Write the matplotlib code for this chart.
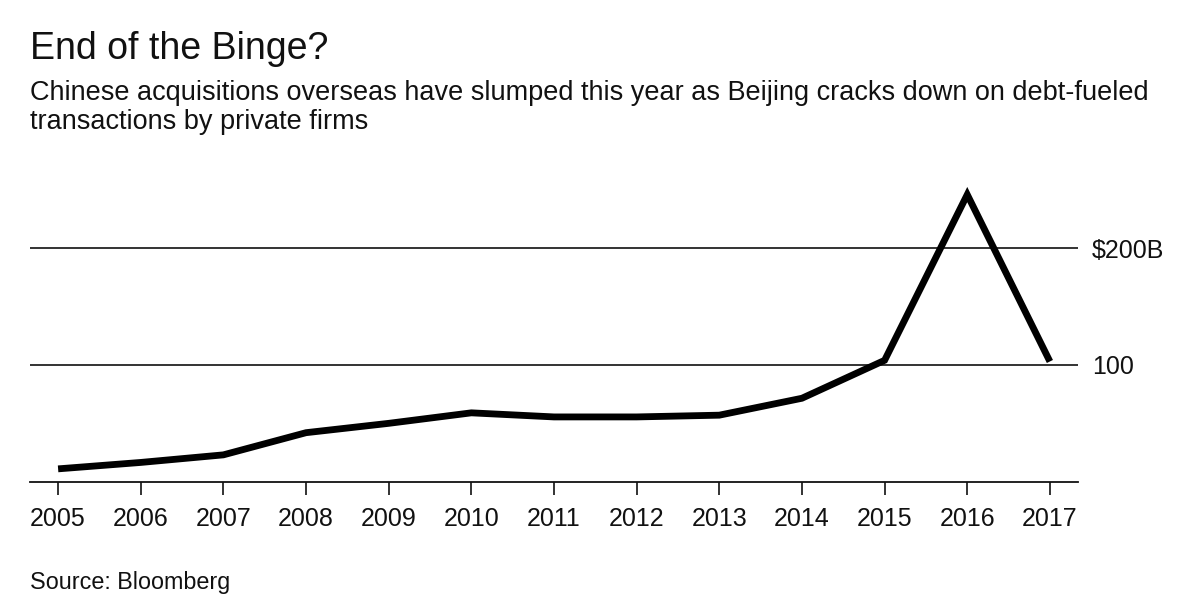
import matplotlib
matplotlib.use('Agg')
import matplotlib.pyplot as plt

plt.rcParams['font.family'] = ['Liberation Sans', 'DejaVu Sans']

# Chinese overseas acquisitions, $B
years = [2005, 2006, 2007, 2008, 2009, 2010, 2011, 2012, 2013, 2014, 2015, 2016, 2017]
deal_value = [11, 16.5, 23, 42, 50, 59, 55.5, 55.5, 57, 71.5, 104, 246, 103]
y_ticks = [100, 200]
y_tick_labels = ['100', '$200B']

W, H = 1200, 616
fig = plt.figure(figsize=(W / 100, H / 100), dpi=100)

# axes box in pixels: left 30, right 1078, top 180, bottom 481.7
ax = fig.add_axes([30 / W, (H - 481.7) / H, 1048 / W, (481.7 - 180) / H])

ax.plot(years, deal_value, color='black', lw=4.9, solid_joinstyle='miter',
        solid_capstyle='butt', zorder=3)

ax.set_xlim(2004.66, 2017.34)
ax.set_ylim(0, 258.5)

for s in ['top', 'left', 'right']:
    ax.spines[s].set_visible(False)
ax.spines['bottom'].set_linewidth(1.3)
ax.spines['bottom'].set_color('#111111')

ax.set_xticks(years)
ax.set_xticklabels([str(y) for y in years])
ax.tick_params(axis='x', length=9, width=1.2, color='#111111', pad=9,
               labelsize=18, labelcolor='#111111')

ax.yaxis.tick_right()
ax.set_yticks(y_ticks)
ax.set_yticklabels(y_tick_labels)
ax.tick_params(axis='y', length=0, pad=10, labelsize=18, labelcolor='#111111')
ax.grid(axis='y', color='#111111', lw=1.2)
ax.set_axisbelow(True)

fig.text(30 / W, 1 - 49 / H, 'End of the Binge?', fontsize=27, va='center',
         ha='left', color='#111111')
fig.text(30 / W, 1 - 93 / H,
         'Chinese acquisitions overseas have slumped this year as Beijing cracks down on debt-fueled',
         fontsize=19.5, va='center', ha='left', color='#111111')
fig.text(30 / W, 1 - 122 / H, 'transactions by private firms',
         fontsize=19.5, va='center', ha='left', color='#111111')
fig.text(30 / W, 1 - 582 / H, 'Source: Bloomberg', fontsize=16.8, va='center',
         ha='left', color='#111111')

fig.savefig('out.png', dpi=100, facecolor='white')
